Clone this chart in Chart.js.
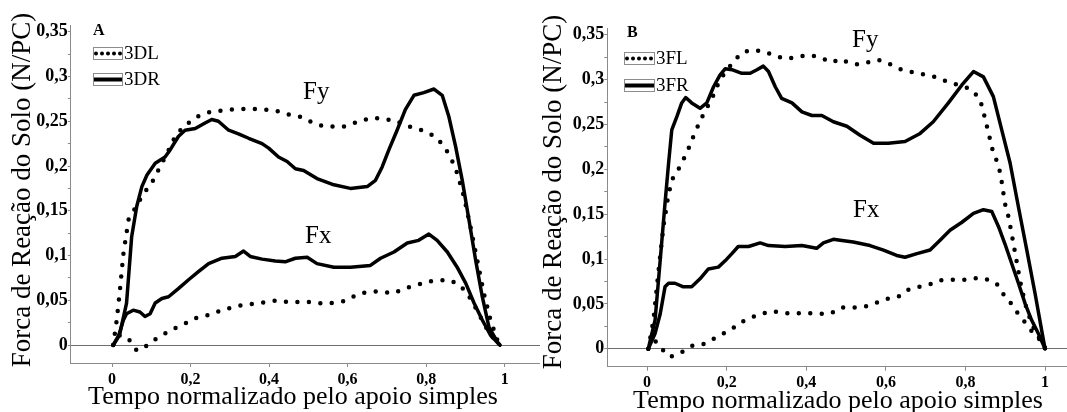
<!DOCTYPE html>
<html>
<head>
<meta charset="utf-8">
<script src="https://cdn.jsdelivr.net/npm/chart.js@4.4.0/dist/chart.umd.min.js"></script>
<style>
  html, body { margin: 0; padding: 0; background: #fff; overflow: hidden; }
  #wrap { position: relative; width: 1067px; height: 412px; }
  canvas { position: absolute; top: 0; }
</style>
</head>
<body>
<div id="wrap">
  <canvas id="chartA" width="540" height="412" style="left:0"></canvas>
  <canvas id="chartB" width="527" height="412" style="left:540px"></canvas>
</div>
<script>
// ---- data, pairs of [tempo, forca] ----
const X_TICKS = [0, 0.2, 0.4, 0.6, 0.8, 1];
const Y_TICKS = [0, 0.025, 0.05, 0.075, 0.1, 0.125, 0.15, 0.175, 0.2, 0.225, 0.25, 0.275, 0.3, 0.325, 0.35];

// Panel A
const A_FY_3DR = [[0.003,0],[0.02,0.013],[0.037,0.047],[0.05,0.121],[0.063,0.155],[0.076,0.177],[0.089,0.19],[0.11,0.203],[0.135,0.21],[0.148,0.218],[0.169,0.233],[0.186,0.24],[0.212,0.242],[0.237,0.248],[0.254,0.252],[0.271,0.25],[0.297,0.24],[0.322,0.236],[0.348,0.231],[0.382,0.225],[0.399,0.22],[0.424,0.21],[0.446,0.205],[0.467,0.197],[0.488,0.195],[0.522,0.186],[0.565,0.179],[0.607,0.175],[0.65,0.177],[0.671,0.184],[0.688,0.199],[0.705,0.218],[0.726,0.24],[0.747,0.263],[0.769,0.279],[0.794,0.282],[0.82,0.286],[0.841,0.279],[0.858,0.255],[0.875,0.222],[0.892,0.184],[0.909,0.14],[0.926,0.095],[0.943,0.054],[0.96,0.02],[0.981,0.004],[0.988,0]];
const A_FY_3DL = [[0.003,0],[0.012,0.028],[0.02,0.061],[0.029,0.102],[0.042,0.14],[0.059,0.153],[0.08,0.169],[0.101,0.181],[0.122,0.199],[0.14,0.214],[0.161,0.233],[0.182,0.244],[0.216,0.255],[0.254,0.261],[0.305,0.263],[0.356,0.264],[0.416,0.262],[0.446,0.258],[0.48,0.255],[0.522,0.246],[0.556,0.244],[0.59,0.244],[0.637,0.251],[0.667,0.254],[0.696,0.252],[0.722,0.251],[0.743,0.246],[0.773,0.242],[0.803,0.238],[0.828,0.231],[0.849,0.22],[0.867,0.205],[0.879,0.192],[0.896,0.166],[0.913,0.132],[0.93,0.095],[0.947,0.058],[0.964,0.028],[0.981,0.006],[0.99,0]];
const A_FX_3DR = [[0.003,0],[0.016,0.009],[0.029,0.028],[0.037,0.035],[0.054,0.039],[0.071,0.037],[0.084,0.032],[0.097,0.035],[0.11,0.047],[0.127,0.052],[0.144,0.054],[0.169,0.063],[0.195,0.073],[0.22,0.082],[0.246,0.091],[0.28,0.097],[0.314,0.099],[0.335,0.105],[0.352,0.099],[0.382,0.096],[0.416,0.094],[0.441,0.093],[0.467,0.097],[0.497,0.098],[0.522,0.091],[0.565,0.087],[0.607,0.087],[0.658,0.089],[0.684,0.097],[0.718,0.104],[0.752,0.114],[0.781,0.117],[0.807,0.124],[0.828,0.117],[0.854,0.104],[0.879,0.087],[0.901,0.069],[0.922,0.047],[0.943,0.028],[0.964,0.011],[0.981,0.003],[0.988,0]];
const A_FX_3DL = [[0.003,0],[0.02,0.011],[0.042,0.007],[0.063,-0.006],[0.084,-0.002],[0.105,0.005],[0.127,0.011],[0.161,0.019],[0.186,0.024],[0.212,0.03],[0.25,0.034],[0.28,0.039],[0.322,0.044],[0.373,0.047],[0.424,0.05],[0.45,0.048],[0.505,0.048],[0.543,0.046],[0.59,0.049],[0.633,0.058],[0.675,0.06],[0.718,0.058],[0.743,0.063],[0.777,0.067],[0.803,0.071],[0.854,0.073],[0.879,0.069],[0.901,0.06],[0.918,0.048],[0.934,0.035],[0.952,0.02],[0.969,0.009],[0.981,0.002],[0.99,0]];

// Panel B
const B_FY_3FR = [[0.003,0],[0.02,0.032],[0.033,0.099],[0.045,0.162],[0.054,0.207],[0.062,0.244],[0.075,0.259],[0.087,0.274],[0.097,0.28],[0.112,0.274],[0.133,0.268],[0.15,0.274],[0.167,0.292],[0.183,0.305],[0.196,0.312],[0.213,0.311],[0.238,0.307],[0.259,0.307],[0.276,0.311],[0.292,0.315],[0.305,0.309],[0.322,0.292],[0.338,0.279],[0.364,0.274],[0.389,0.264],[0.414,0.26],[0.439,0.26],[0.468,0.253],[0.502,0.248],[0.535,0.238],[0.569,0.229],[0.606,0.229],[0.648,0.231],[0.686,0.24],[0.719,0.253],[0.757,0.274],[0.791,0.294],[0.82,0.309],[0.845,0.303],[0.87,0.281],[0.891,0.244],[0.912,0.207],[0.933,0.158],[0.954,0.11],[0.975,0.061],[0.996,0.009],[1,0]];
const B_FY_3FL = [[0.003,0],[0.016,0.032],[0.028,0.084],[0.041,0.136],[0.054,0.173],[0.066,0.192],[0.083,0.203],[0.104,0.223],[0.121,0.242],[0.141,0.261],[0.163,0.279],[0.183,0.3],[0.217,0.32],[0.238,0.33],[0.263,0.333],[0.296,0.331],[0.322,0.326],[0.351,0.323],[0.384,0.326],[0.414,0.327],[0.443,0.323],[0.464,0.319],[0.485,0.323],[0.51,0.318],[0.531,0.317],[0.552,0.319],[0.581,0.322],[0.611,0.317],[0.64,0.311],[0.669,0.308],[0.703,0.305],[0.732,0.302],[0.757,0.297],[0.782,0.294],[0.803,0.291],[0.82,0.287],[0.837,0.277],[0.845,0.264],[0.858,0.24],[0.87,0.218],[0.883,0.205],[0.891,0.186],[0.899,0.162],[0.908,0.147],[0.916,0.128],[0.925,0.106],[0.937,0.076],[0.95,0.05],[0.966,0.028],[0.983,0.013],[0.996,0.006],[1,0]];
const B_FX_3FR = [[0.003,0],[0.02,0.017],[0.033,0.039],[0.045,0.069],[0.054,0.073],[0.07,0.073],[0.091,0.069],[0.112,0.069],[0.133,0.078],[0.154,0.089],[0.179,0.091],[0.196,0.098],[0.213,0.106],[0.229,0.114],[0.255,0.114],[0.284,0.118],[0.305,0.115],[0.347,0.114],[0.389,0.115],[0.426,0.112],[0.443,0.118],[0.468,0.122],[0.485,0.121],[0.518,0.119],[0.56,0.115],[0.594,0.11],[0.627,0.104],[0.648,0.102],[0.678,0.106],[0.711,0.11],[0.736,0.121],[0.761,0.132],[0.791,0.141],[0.82,0.151],[0.845,0.155],[0.866,0.153],[0.883,0.136],[0.899,0.117],[0.916,0.095],[0.933,0.073],[0.95,0.05],[0.966,0.032],[0.983,0.017],[1,0]];
const B_FX_3FL = [[0.003,0],[0.02,0.009],[0.041,-0.002],[0.058,-0.009],[0.075,-0.006],[0.095,-0.002],[0.116,0.004],[0.141,0.005],[0.167,0.011],[0.192,0.017],[0.213,0.022],[0.238,0.03],[0.263,0.035],[0.288,0.039],[0.313,0.042],[0.342,0.04],[0.368,0.039],[0.397,0.04],[0.426,0.039],[0.46,0.039],[0.489,0.046],[0.518,0.046],[0.548,0.047],[0.581,0.052],[0.606,0.056],[0.631,0.058],[0.657,0.066],[0.682,0.069],[0.707,0.071],[0.732,0.076],[0.757,0.077],[0.782,0.077],[0.807,0.077],[0.832,0.079],[0.858,0.077],[0.879,0.072],[0.895,0.061],[0.912,0.052],[0.929,0.041],[0.945,0.032],[0.962,0.022],[0.979,0.013],[0.996,0.007],[1,0]];

const Y_TITLE = "Forca de Reação do Solo (N/PC)";
const X_TITLE = "Tempo normalizado pelo apoio simples";

const SERIF = '"Liberation Serif", "Times New Roman", serif';
const AXIS_GRAY = "#8a8a8a";
const ZERO_GRAY = "#6e6e6e";

// 0.25 -> "0,25"
const fmt = v => String(+v.toFixed(3)).replace(".", ",");

function drawKey(ctx, [x, y, w, h], dotted) {
  ctx.strokeStyle = "#8c8c8c";
  ctx.lineWidth = 1;
  ctx.strokeRect(x + 0.5, y + 0.5, w, h);
  const cy = y + h / 2 + 0.5;
  ctx.strokeStyle = "#000";
  ctx.lineWidth = 4;
  ctx.beginPath();
  if (dotted) {
    ctx.lineCap = "round";
    ctx.setLineDash([0, 6]);
    ctx.moveTo(x + 3, cy);
    ctx.lineTo(x + w - 1, cy);
  } else {
    ctx.lineCap = "butt";
    ctx.moveTo(x + 1, cy);
    ctx.lineTo(x + w, cy);
  }
  ctx.stroke();
  ctx.setLineDash([]);
}

const annotate = opt => ({
  id: "annotate",
  afterDraw(chart) {
    const ctx = chart.ctx;
    ctx.save();
    ctx.fillStyle = "#000";

    // axis titles
    ctx.font = "26px " + SERIF;
    ctx.textAlign = "center";
    ctx.textBaseline = "alphabetic";
    ctx.fillText(X_TITLE, opt.xTitle[0], opt.xTitle[1]);

    ctx.save();
    ctx.translate(opt.yTitle[0], opt.yTitle[1]);
    ctx.rotate(-Math.PI / 2);
    ctx.textBaseline = "middle";
    ctx.font = "27px " + SERIF;
    ctx.fillText(Y_TITLE, 0, 0);
    ctx.restore();

    // Fy / Fx
    ctx.font = "25px " + SERIF;
    ctx.textAlign = "left";
    ctx.textBaseline = "alphabetic";
    opt.notes.forEach(n => ctx.fillText(n.text, n.x, n.y));

    // panel letter and key
    ctx.font = "bold 16px " + SERIF;
    ctx.fillText(opt.letter, opt.letterPos[0], opt.letterPos[1]);
    ctx.font = "19px " + SERIF;
    ctx.textBaseline = "middle";
    opt.keys.forEach(k => {
      drawKey(ctx, k.box, k.dotted);
      ctx.fillStyle = "#000";
      ctx.fillText(k.label, k.box[0] + k.box[2] + 2, k.box[1] + k.box[3] / 2 + 1);
    });
    ctx.restore();
  }
});

function panel(canvasId, opt) {
  return new Chart(document.getElementById(canvasId), {
    type: "line",
    data: {
      datasets: opt.series.map(s => ({
        label: s.label,
        data: s.data.map(([x, y]) => ({ x, y })),
        borderColor: "#000",
        borderWidth: s.dotted ? 4.5 : 3.5,
        borderDash: s.dotted ? [0, 11.5] : [],
        borderCapStyle: "round",
        borderJoinStyle: "round",
        pointRadius: 0,
        tension: 0,
        fill: false
      }))
    },
    options: {
      responsive: false,
      animation: false,
      events: [],
      layout: { padding: { left: 0, right: 0, top: opt.top, bottom: 0 } },
      plugins: { legend: { display: false }, tooltip: { enabled: false } },
      scales: {
        x: {
          type: "linear",
          min: opt.xMin,
          max: opt.xMax,
          afterFit: s => { s.height = opt.xHeight; },
          afterBuildTicks: s => { s.ticks = X_TICKS.map(v => ({ value: v })); },
          border: { color: AXIS_GRAY, width: 1 },
          grid: { drawOnChartArea: false, tickLength: 4, tickColor: AXIS_GRAY },
          ticks: {
            autoSkip: false,
            maxRotation: 0,
            padding: 3,
            color: "#000",
            font: { family: SERIF, size: 16, weight: "bold" },
            callback: v => fmt(v)
          }
        },
        y: {
          min: -0.02,
          max: 0.3575,
          afterFit: s => { s.width = opt.yWidth; },
          afterBuildTicks: s => { s.ticks = Y_TICKS.map(v => ({ value: v })); },
          border: { color: AXIS_GRAY, width: 1 },
          grid: {
            color: c => (c.tick && c.tick.value === 0 ? ZERO_GRAY : "rgba(0,0,0,0)"),
            tickColor: AXIS_GRAY,
            tickLength: 3,
            lineWidth: 1
          },
          ticks: {
            autoSkip: false,
            padding: 0,
            color: "#000",
            font: { family: SERIF, size: 18, weight: "bold" },
            callback: v => (Math.round(v * 1000) % 50 === 0 ? fmt(v) : "")
          }
        }
      }
    },
    plugins: [annotate(opt)]
  });
}

panel("chartA", {
  top: 25, xHeight: 49, yWidth: 70.8, xMin: -0.105, xMax: 1.09,
  series: [
    { label: "3DL", data: A_FY_3DL, dotted: true },
    { label: "3DR", data: A_FY_3DR, dotted: false },
    { label: "3DL", data: A_FX_3DL, dotted: true },
    { label: "3DR", data: A_FX_3DR, dotted: false }
  ],
  xTitle: [293, 404],
  yTitle: [23, 190],
  notes: [{ text: "Fy", x: 303, y: 99 }, { text: "Fx", x: 305, y: 243 }],
  letter: "A", letterPos: [93, 35],
  keys: [
    { label: "3DL", dotted: true, box: [93, 47, 29, 12] },
    { label: "3DR", dotted: false, box: [93, 73, 29, 12] }
  ]
});

panel("chartB", {
  top: 28, xHeight: 45.3, yWidth: 67.3, xMin: -0.1, xMax: 1.055,
  series: [
    { label: "3FL", data: B_FY_3FL, dotted: true },
    { label: "3FR", data: B_FY_3FR, dotted: false },
    { label: "3FL", data: B_FX_3FL, dotted: true },
    { label: "3FR", data: B_FX_3FR, dotted: false }
  ],
  xTitle: [298, 408],
  yTitle: [14, 192],
  notes: [{ text: "Fy", x: 312, y: 47 }, { text: "Fx", x: 313, y: 217 }],
  letter: "B", letterPos: [87, 37],
  keys: [
    { label: "3FL", dotted: true, box: [84, 52, 30, 12] },
    { label: "3FR", dotted: false, box: [84, 79, 30, 12] }
  ]
});
</script>
</body>
</html>
